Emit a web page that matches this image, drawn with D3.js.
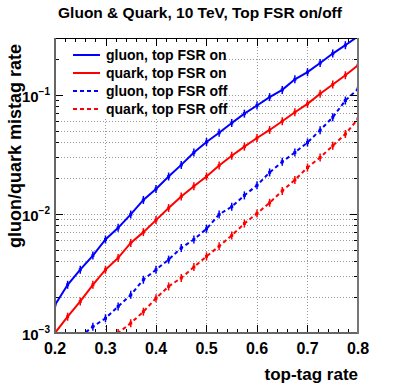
<!DOCTYPE html>
<html>
<head>
<meta charset="utf-8">
<script src="https://cdn.jsdelivr.net/npm/d3@7"></script>
<style>
  body { margin: 0; background: #fff; }
  svg { font-family: "Liberation Sans", Arial, sans-serif; font-weight: bold; }
</style>
</head>
<body>
<div id="chart"></div>
<script>
// top-tag rate points, every 0.025
const tagRate = [0.2, 0.225, 0.25, 0.275, 0.3, 0.325, 0.35, 0.375, 0.4, 0.425, 0.45, 0.475,
  0.5, 0.525, 0.55, 0.575, 0.6, 0.625, 0.65, 0.675, 0.7, 0.725, 0.75, 0.775, 0.8];

const gluonOn = [0.00172, 0.00254, 0.0034, 0.00447, 0.0061, 0.00764, 0.00991, 0.0131, 0.0162,
  0.0206, 0.0258, 0.0328, 0.0402, 0.048, 0.058, 0.0695, 0.0813, 0.0957, 0.110, 0.135, 0.155,
  0.185, 0.222, 0.261, 0.31];
const quarkOn = [0.001, 0.00137, 0.00184, 0.00254, 0.0034, 0.00427, 0.00571, 0.00703, 0.00887,
  0.0112, 0.014, 0.0171, 0.0206, 0.0255, 0.0308, 0.0367, 0.0434, 0.0507, 0.06, 0.0714, 0.084,
  0.102, 0.122, 0.146, 0.177];
const gluonOff = [null, null, 0.00093, 0.00113, 0.00133, 0.00167, 0.00209, 0.0028, 0.0034, 0.00413,
  0.00518, 0.0061, 0.0075, 0.0099, 0.0115, 0.0143, 0.0174, 0.0223, 0.0274, 0.0328, 0.0398,
  0.0505, 0.0648, 0.0895, 0.112];
const quarkOff = [null, null, null, null, 0.00085, 0.001, 0.00121, 0.00151, 0.00196, 0.00246,
  0.0029, 0.00358, 0.0044, 0.00535, 0.0066, 0.0083, 0.0101, 0.0124, 0.0156, 0.0193, 0.0245,
  0.0298, 0.0373, 0.0469, 0.0627];

const seriesNames = ["gluon, top FSR on", "quark, top FSR on", "gluon, top FSR off", "quark, top FSR off"];
const xTicks = [0.2, 0.3, 0.4, 0.5, 0.6, 0.7, 0.8];
const yDecades = [-3, -2, -1];

const series = [
  { name: seriesNames[0], values: gluonOn, color: "#0000ff", dash: null },
  { name: seriesNames[1], values: quarkOn, color: "#ff0000", dash: null },
  { name: seriesNames[2], values: gluonOff, color: "#0000ff", dash: "4,3" },
  { name: seriesNames[3], values: quarkOff, color: "#ff0000", dash: "4,3" }
];

const W = 399, H = 385;
const plot = { left: 55, right: 358, top: 38, bottom: 333 };

const svg = d3.select("#chart").append("svg")
  .attr("width", W).attr("height", H);

const x = d3.scaleLinear().domain([0.2, 0.8]).range([plot.left, plot.right]);
const y = d3.scaleLog().domain([0.001, 0.3]).range([plot.bottom, plot.top]);

// log ticks incl. minor
const yAll = [];
for (let e = -3; e <= -1; e++) {
  for (let m = 1; m <= 9; m++) {
    const v = m * Math.pow(10, e);
    if (v >= 0.001 && v <= 0.3 + 1e-9) yAll.push(v);
  }
}
const xMinor = d3.range(0.2, 0.8001, 0.02);

// grid
const grid = svg.append("g").attr("stroke", "#999").attr("stroke-width", 1).attr("stroke-dasharray", "1,2");
grid.selectAll(".gy").data(yAll.filter(v => v > 0.001)).enter().append("line")
  .attr("x1", plot.left).attr("x2", plot.right)
  .attr("y1", d => Math.round(y(d)) + 0.5).attr("y2", d => Math.round(y(d)) + 0.5);
grid.selectAll(".gx").data(xTicks.slice(1, -1)).enter().append("line")
  .attr("y1", plot.top).attr("y2", plot.bottom)
  .attr("x1", d => Math.round(x(d)) + 0.5).attr("x2", d => Math.round(x(d)) + 0.5);

// legend box (white, covers grid)
svg.append("rect").attr("x", 57).attr("y", 40).attr("width", 165).attr("height", 77).attr("fill", "#fff");

// curves
svg.append("clipPath").attr("id", "clip").append("rect")
  .attr("x", plot.left).attr("y", plot.top)
  .attr("width", plot.right - plot.left).attr("height", plot.bottom - plot.top);

const line = d3.line()
  .defined(d => d[1] != null)
  .x(d => x(d[0])).y(d => y(d[1]));

const curves = svg.append("g").attr("clip-path", "url(#clip)");
series.forEach(s => {
  const pts = tagRate.map((t, i) => [t, s.values[i]]);
  curves.append("path").datum(pts)
    .attr("d", line)
    .attr("fill", "none")
    .attr("stroke", s.color)
    .attr("stroke-width", 2)
    .attr("stroke-dasharray", s.dash);
  // error bars
  const ok = pts.filter(d => d[1] != null);
  curves.selectAll(null).data(ok).enter().append("line")
    .attr("x1", d => x(d[0])).attr("x2", d => x(d[0]))
    .attr("y1", d => y(d[1]) - 4).attr("y2", d => y(d[1]) + 4)
    .attr("stroke", s.color).attr("stroke-width", 1.5);
  curves.selectAll(null).data(ok).enter().append("rect")
    .attr("x", d => x(d[0]) - 1.5).attr("y", d => y(d[1]) - 1.5)
    .attr("width", 3).attr("height", 3).attr("fill", s.color);
});

// ticks on all four sides
const tk = svg.append("g").attr("stroke", "#000").attr("stroke-width", 1);
xMinor.forEach(v => {
  const major = xTicks.some(t => Math.abs(t - v) < 1e-6);
  const len = major ? 8 : 4;
  const px = Math.round(x(v)) + 0.5;
  tk.append("line").attr("x1", px).attr("x2", px).attr("y1", plot.bottom).attr("y2", plot.bottom - len);
  tk.append("line").attr("x1", px).attr("x2", px).attr("y1", plot.top).attr("y2", plot.top + len);
});
yAll.forEach(v => {
  const major = Math.abs(Math.log10(v) - Math.round(Math.log10(v))) < 1e-6;
  const len = major ? 8 : 4;
  const py = Math.round(y(v)) + 0.5;
  tk.append("line").attr("x1", plot.left).attr("x2", plot.left + len).attr("y1", py).attr("y2", py);
  tk.append("line").attr("x1", plot.right).attr("x2", plot.right - len).attr("y1", py).attr("y2", py);
});

// frame
svg.append("line").attr("x1", plot.left).attr("x2", plot.right).attr("y1", plot.top + 0.5).attr("y2", plot.top + 0.5)
  .attr("stroke", "#000").attr("stroke-width", 1);
svg.append("line").attr("x1", plot.left).attr("x2", plot.right).attr("y1", plot.bottom).attr("y2", plot.bottom)
  .attr("stroke", "#666").attr("stroke-width", 2);
svg.append("line").attr("x1", plot.left).attr("x2", plot.left).attr("y1", plot.top).attr("y2", plot.bottom + 1)
  .attr("stroke", "#666").attr("stroke-width", 2);
svg.append("line").attr("x1", plot.right).attr("x2", plot.right).attr("y1", plot.top).attr("y2", plot.bottom + 1)
  .attr("stroke", "#777").attr("stroke-width", 2);

// x tick labels
svg.selectAll(".xl").data(xTicks).enter().append("text")
  .attr("x", d => x(d)).attr("y", 354)
  .attr("text-anchor", "middle").attr("font-size", 16)
  .text(d => d.toFixed(1));

// y tick labels 10^n
yDecades.forEach(e => {
  const t = svg.append("text").attr("x", 50).attr("y", y(Math.pow(10, e)) + 7)
    .attr("text-anchor", "end").attr("font-size", 15);
  t.append("tspan").text("10");
  t.append("tspan").attr("dy", -7).attr("font-size", 10).text("\u2212" + (-e));
});

// titles
svg.append("text").attr("x", 200).attr("y", 18).attr("text-anchor", "middle")
  .attr("font-size", 15.5).text("Gluon & Quark, 10 TeV, Top FSR on/off");
svg.append("text").attr("x", 358).attr("y", 380).attr("text-anchor", "end")
  .attr("font-size", 17).text("top-tag rate");
svg.append("text").attr("transform", "translate(21,44) rotate(-90)")
  .attr("text-anchor", "end").attr("font-size", 18).text("gluon/quark mistag rate");

// legend
const leg = svg.append("g");
series.forEach((s, i) => {
  const ly = 55 + i * 18;
  leg.append("line").attr("x1", 73).attr("x2", 100).attr("y1", ly).attr("y2", ly)
    .attr("stroke", s.color).attr("stroke-width", 2).attr("stroke-dasharray", s.dash);
  leg.append("text").attr("x", 106).attr("y", ly + 5).attr("font-size", 14).text(s.name);
});
</script>
</body>
</html>
